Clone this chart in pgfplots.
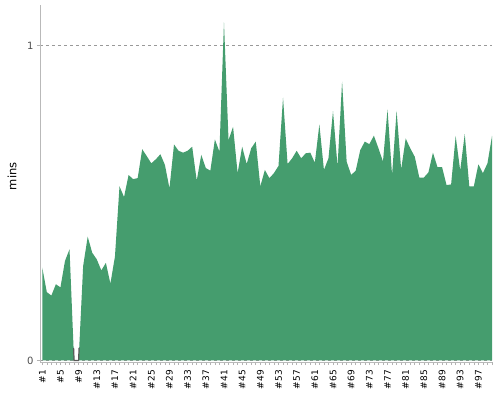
\documentclass[border=0pt]{standalone}
\usepackage{pgfplots}
\pgfplotsset{compat=1.18}
\usepackage{fontspec}
\setmainfont{DejaVu Sans}
\definecolor{areagreen}{RGB}{69,157,110}
\begin{document}
\begin{tikzpicture}
\begin{axis}[
  at={(0,0)}, anchor=south west,
  scale only axis, width=452pt, height=357pt,
  xmin=0.5, xmax=100, ymin=-0.005, ymax=1.129,
  axis lines*=left,
  axis line style={gray!55, line width=0.8pt},
  xtick={1,5,...,97},
  xticklabels={\#1,\#5,\#9,\#13,\#17,\#21,\#25,\#29,\#33,\#37,\#41,\#45,\#49,\#53,\#57,\#61,\#65,\#69,\#73,\#77,\#81,\#85,\#89,\#93,\#97},
  minor xtick={1,...,100},
  x tick label style={rotate=90, anchor=east, font=\fontsize{9}{10}\selectfont, black, xshift=-1.5pt},
  ytick={0,1},
  y tick label style={font=\fontsize{10}{12}\selectfont, gray!60!black},
  /pgf/number format/assume math mode=true,
  tick align=outside,
  major tick length=3pt, minor tick length=3pt,
  tick style={gray!60, line width=0.6pt},
  ymajorgrids, grid style={dashed, gray!80, line width=0.5pt},
  ylabel={mins},
  ylabel style={font=\fontsize{11.5}{14}\selectfont, black, at={(axis description cs:-0.062,0.52)}, anchor=center},
  clip=false,
]
\addplot[fill=areagreen, draw=none] table[x=x, y=y] {
x y
1 0.295
2 0.217
3 0.206
4 0.242
5 0.232
6 0.316
7 0.353
8 0
9 0
10 0.30
11 0.393
12 0.342
13 0.321
14 0.286
15 0.31
16 0.244
17 0.33
18 0.553
19 0.519
20 0.589
21 0.576
22 0.579
23 0.671
24 0.649
25 0.626
26 0.639
27 0.655
28 0.621
29 0.547
30 0.686
31 0.666
32 0.66
33 0.666
34 0.679
35 0.571
36 0.653
37 0.611
38 0.603
39 0.702
40 0.663
41 1.074
42 0.70
43 0.742
44 0.595
45 0.679
46 0.624
47 0.674
48 0.695
49 0.553
50 0.605
51 0.579
52 0.595
53 0.618
54 0.835
55 0.624
56 0.642
57 0.666
58 0.642
59 0.658
60 0.66
61 0.628
62 0.75
63 0.605
64 0.642
65 0.792
66 0.616
67 0.886
68 0.632
69 0.589
70 0.603
71 0.668
72 0.695
73 0.687
74 0.714
75 0.674
76 0.632
77 0.797
78 0.589
79 0.793
80 0.607
81 0.705
82 0.674
83 0.647
84 0.581
85 0.581
86 0.597
87 0.66
88 0.614
89 0.614
90 0.557
91 0.559
92 0.713
93 0.603
94 0.719
95 0.553
96 0.553
97 0.623
98 0.595
99 0.626
100 0.713
} \closedcycle;
\addplot[draw=gray!70!black, line width=1.2pt] coordinates {(7.9,0.04) (8,0) (9,0) (9.1,0.04)};
\end{axis}
\pgfresetboundingbox
\path[use as bounding box] (-40pt,-38pt) rectangle (460pt,362pt);
\end{tikzpicture}
\end{document}
